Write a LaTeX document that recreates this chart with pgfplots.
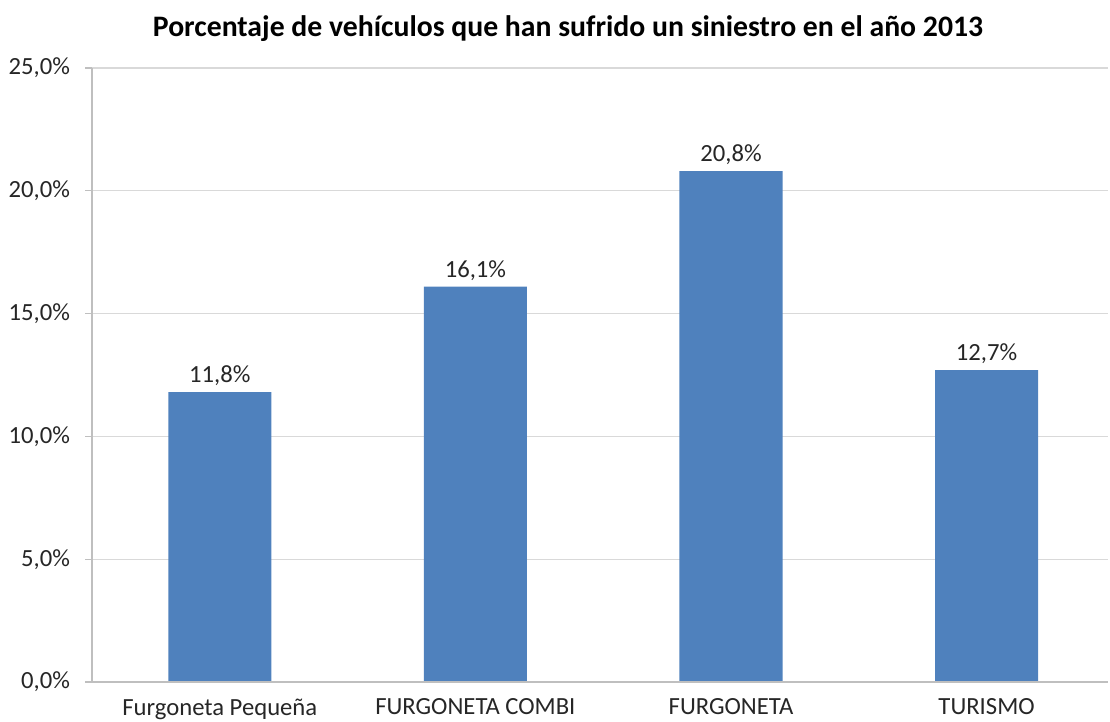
\documentclass[border=0pt]{standalone}
\usepackage{pgfplots}
\pgfplotsset{compat=1.18}
\usepackage{fontspec}
\setmainfont{Carlito}
\definecolor{barblue}{HTML}{4F81BD}
\definecolor{gridgray}{HTML}{D9D9D9}
\definecolor{axgray}{HTML}{BFBFBF}
\definecolor{txt}{HTML}{262626}
\begin{document}
\begin{tikzpicture}
\useasboundingbox (-69pt,-29.25pt) rectangle (763.5pt,511.5pt);
\begin{axis}[
  scale only axis,
  width=762pt, height=460.5pt,
  xmin=-0.5, xmax=3.475,
  ymin=0, ymax=25,
  axis x line*=bottom,
  axis y line*=left,
  axis line style={draw=none},
  ytick={0,5,10,15,20,25},
  yticklabels={{0,0\%},{5,0\%},{10,0\%},{15,0\%},{20,0\%},{25,0\%}},
  ymajorgrids,
  grid style={gridgray, line width=0.8pt},
  major tick length=5pt,
  ytick style={axgray, line width=0.8pt},
  tick align=outside,
  xtick={0,1,2,3},
  xticklabels={Furgoneta Pequeña, FURGONETA COMBI, FURGONETA, TURISMO},
  xtick style={draw=none},
  extra x ticks={0.5,1.5,2.5},
  extra x tick labels={},
  extra x tick style={xtick style={axgray, line width=0.8pt}, major tick length=6pt, grid=none},
  ticklabel style={font=\fontsize{18.5}{21}\selectfont, text=txt},
  xticklabel style={yshift=-4pt},
  yticklabel style={xshift=-8pt},
  title={Porcentaje de vehículos que han sufrido un siniestro en el año 2013},
  title style={font=\fontsize{22.3}{26}\selectfont\bfseries, text=black, yshift=10pt, xshift=-24pt},
  ybar, bar width=77.25pt,
  point meta=explicit symbolic,
  nodes near coords,
  nodes near coords style={font=\fontsize{18.5}{21}\selectfont, text=txt, yshift=1pt},
  clip=false,
]
\addplot[fill=barblue, draw=none] coordinates {
  (0,11.8) [11,8\%]
  (1,16.1) [16,1\%]
  (2,20.8) [20,8\%]
  (3,12.7) [12,7\%]
};
\draw[axgray, line width=0.8pt] (axis cs:-0.5,0) -- (axis cs:-0.5,25);
\draw[axgray, line width=0.8pt] (axis cs:-0.5,0) -- (axis cs:3.475,0);
\end{axis}
\end{tikzpicture}
\end{document}
